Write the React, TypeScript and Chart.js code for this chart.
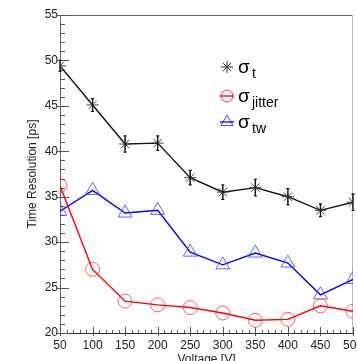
import React, { useEffect, useRef } from 'react';
import { Chart, registerables } from 'chart.js';

Chart.register(...registerables);

const voltages = [50, 100, 150, 200, 250, 300, 350, 400, 450, 500];
const sigmaT = [49.4, 45.1, 40.8, 40.9, 37.1, 35.5, 36.0, 35.0, 33.5, 34.4];
const sigmaTErr = [0.6, 0.7, 0.9, 0.8, 0.8, 0.8, 0.9, 0.9, 0.7, 0.9];
const sigmaJitter = [36.2, 27.0, 23.5, 23.1, 22.8, 22.2, 21.4, 21.5, 23.0, 22.4];
const sigmaTw = [33.4, 35.7, 33.2, 33.5, 28.9, 27.5, 28.8, 27.7, 24.2, 25.9];
const xTickStep = 50;
const yTickStep = 5;
const xMinor = 10;
const yMinor = 1;

const FONT = "'Liberation Sans', Arial, sans-serif";

const framePlugin = {
  id: 'rootFrame',
  beforeDatasetsDraw(chart: any) {
    const { ctx, chartArea: a, scales } = chart;
    const xs = scales.x;
    const ys = scales.y;
    ctx.save();
    ctx.strokeStyle = '#666';
    ctx.lineWidth = 1;
    ctx.beginPath();
    ctx.moveTo(a.left, a.top + 0.5);
    ctx.lineTo(a.right, a.top + 0.5);
    ctx.stroke();
    ctx.strokeStyle = '#bbb';
    ctx.beginPath();
    ctx.moveTo(a.right - 0.5, a.top);
    ctx.lineTo(a.right - 0.5, a.bottom);
    ctx.stroke();
    ctx.strokeStyle = '#555';
    for (let v = ys.min; v <= ys.max + 1e-6; v += yMinor) {
      const y = Math.round(ys.getPixelForValue(v)) + 0.5;
      const major = Math.abs(v / yTickStep - Math.round(v / yTickStep)) < 1e-6;
      ctx.beginPath();
      ctx.moveTo(major ? a.left - 3 : a.left, y);
      ctx.lineTo(a.left + (major ? 9 : 5), y);
      ctx.stroke();
    }
    for (let v = xs.min; v <= xs.max + 1e-6; v += xMinor) {
      const x = Math.round(xs.getPixelForValue(v)) + 0.5;
      const major = Math.abs(v / xTickStep - Math.round(v / xTickStep)) < 1e-6;
      ctx.beginPath();
      ctx.moveTo(x, major ? a.bottom + 3 : a.bottom);
      ctx.lineTo(x, a.bottom - (major ? 6 : 3));
      ctx.stroke();
    }
    ctx.restore();
  },
  afterDatasetsDraw(chart: any) {
    const { ctx, scales } = chart;
    const xs = scales.x;
    const ys = scales.y;
    ctx.save();
    ctx.strokeStyle = '#111';
    ctx.lineWidth = 1.3;
    voltages.forEach((v, i) => {
      const x = xs.getPixelForValue(v);
      const y1 = ys.getPixelForValue(sigmaT[i] - sigmaTErr[i]);
      const y2 = ys.getPixelForValue(sigmaT[i] + sigmaTErr[i]);
      ctx.beginPath();
      ctx.moveTo(x, y1);
      ctx.lineTo(x, y2);
      ctx.moveTo(x - 1.5, y1);
      ctx.lineTo(x + 1.5, y1);
      ctx.moveTo(x - 1.5, y2);
      ctx.lineTo(x + 1.5, y2);
      ctx.stroke();
    });

    const lx = 227;
    const rows = [
      { y: 67, sub: 't', kind: 'star', color: '#333' },
      { y: 96, sub: 'jitter', kind: 'circle', color: 'rgba(255,0,0,0.8)' },
      { y: 122, sub: 'tw', kind: 'triangle', color: '#4a4aff' },
    ];
    rows.forEach((r) => {
      ctx.lineWidth = 1;
      ctx.strokeStyle = r.color;
      ctx.beginPath();
      if (r.kind === 'star') {
        const s = 6;
        ctx.moveTo(lx - s, r.y); ctx.lineTo(lx + s, r.y);
        ctx.moveTo(lx, r.y - s); ctx.lineTo(lx, r.y + s);
        const d = s * 0.707;
        ctx.moveTo(lx - d, r.y - d); ctx.lineTo(lx + d, r.y + d);
        ctx.moveTo(lx - d, r.y + d); ctx.lineTo(lx + d, r.y - d);
        ctx.stroke();
      } else if (r.kind === 'circle') {
        ctx.arc(lx, r.y, 6, 0, Math.PI * 2);
        ctx.stroke();
        ctx.strokeStyle = '#ff0000';
        ctx.lineWidth = 1.3;
        ctx.beginPath();
        ctx.moveTo(lx - 7, r.y);
        ctx.lineTo(lx + 7, r.y);
        ctx.stroke();
      } else {
        const R = 7;
        ctx.moveTo(lx, r.y - R);
        ctx.lineTo(lx + R * 0.866, r.y + R * 0.5);
        ctx.lineTo(lx - R * 0.866, r.y + R * 0.5);
        ctx.closePath();
        ctx.stroke();
        ctx.strokeStyle = '#0000ff';
        ctx.lineWidth = 1.3;
        ctx.beginPath();
        ctx.moveTo(lx - 7, r.y);
        ctx.lineTo(lx + 7, r.y);
        ctx.stroke();
      }
      ctx.fillStyle = '#000';
      ctx.textBaseline = 'alphabetic';
      ctx.textAlign = 'left';
      ctx.font = `19px ${FONT}`;
      ctx.fillText('σ', 238, r.y + 6);
      ctx.font = `14px ${FONT}`;
      ctx.fillText(r.sub, 252, r.y + 11);
    });
    ctx.restore();
  },
};

export default function App() {
  const ref = useRef<HTMLCanvasElement | null>(null);

  useEffect(() => {
    document.body.style.margin = '0';
    const canvas = ref.current;
    if (!canvas) return;
    const tickFont = { family: FONT, size: 12 };
    const chart = new Chart(canvas, {
      type: 'line',
      data: {
        datasets: [
          {
            label: 'σt',
            data: voltages.map((v, i) => ({ x: v, y: sigmaT[i] })),
            borderColor: '#111',
            borderWidth: 1.4,
            pointStyle: 'star',
            pointRadius: 6,
            pointBorderColor: '#444',
            pointBorderWidth: 1,
            pointBackgroundColor: 'transparent',
            tension: 0,
          },
          {
            label: 'σjitter',
            data: voltages.map((v, i) => ({ x: v, y: sigmaJitter[i] })),
            borderColor: '#ff0000',
            borderWidth: 1.4,
            pointStyle: 'circle',
            pointRadius: 7,
            pointBorderColor: 'rgba(255,40,40,0.75)',
            pointBorderWidth: 1,
            pointBackgroundColor: 'transparent',
            tension: 0,
          },
          {
            label: 'σtw',
            data: voltages.map((v, i) => ({ x: v, y: sigmaTw[i] })),
            borderColor: '#0000ff',
            borderWidth: 1.4,
            pointStyle: 'triangle',
            pointRadius: 8,
            pointBorderColor: 'rgba(70,70,255,0.85)',
            pointBorderWidth: 1,
            pointBackgroundColor: 'transparent',
            tension: 0,
          },
        ],
      },
      options: {
        responsive: false,
        animation: false,
        devicePixelRatio: 1,
        layout: { autoPadding: false, padding: { top: 15, right: 4, left: 0, bottom: 0 } },
        plugins: { legend: { display: false }, tooltip: { enabled: false } },
        scales: {
          x: {
            type: 'linear',
            min: 50,
            max: 500,
            ticks: {
              stepSize: xTickStep,
              padding: 5,
              color: '#222',
              font: tickFont,
              maxRotation: 0,
              autoSkip: false,
            },
            grid: { display: false, drawTicks: false },
            border: { display: true, color: '#333', width: 1 },
            title: {
              display: true,
              text: 'Voltage [V]',
              color: '#222',
              font: { family: FONT, size: 12, lineHeight: 1 },
              padding: { top: 0, bottom: -5 },
            },
            afterFit: (s: any) => {
              s.height = 28;
              s.paddingLeft = 0;
              s.paddingRight = 0;
            },
          },
          y: {
            type: 'linear',
            min: 20,
            max: 55,
            ticks: {
              stepSize: yTickStep,
              padding: 2,
              color: '#222',
              font: tickFont,
            },
            grid: { display: false, drawTicks: false },
            border: { display: true, color: '#666', width: 1 },
            title: {
              display: true,
              text: 'Time Resolution [ps]',
              color: '#222',
              font: { family: FONT, size: 12, lineHeight: 1 },
              padding: { top: 27, bottom: 0 },
            },
            afterFit: (s: any) => {
              s.width = 60;
              s.paddingTop = 0;
              s.paddingBottom = 0;
            },
          },
        },
      },
      plugins: [framePlugin],
    } as any);
    return () => chart.destroy();
  }, []);

  return <canvas ref={ref} width={357} height={361} style={{ display: 'block' }} />;
}
